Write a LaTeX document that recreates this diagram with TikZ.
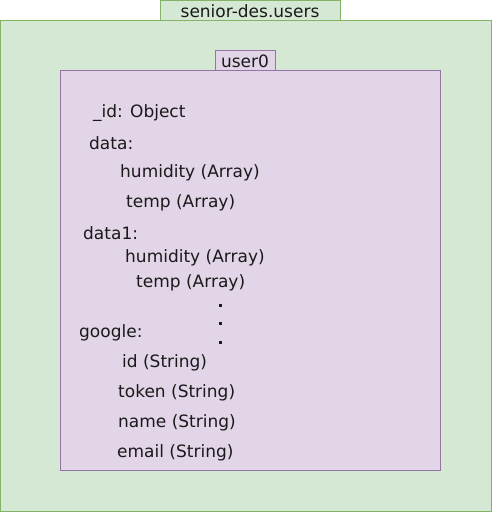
\documentclass[tikz,border=0pt]{standalone}
\usepackage{fontspec}
\setmainfont{DejaVu Sans}
\definecolor{gfill}{HTML}{D5E8D4}
\definecolor{gline}{HTML}{82B366}
\definecolor{pfill}{HTML}{E1D5E7}
\definecolor{pline}{HTML}{9673A6}
\definecolor{txt}{HTML}{1A1A1A}
\begin{document}
\begin{tikzpicture}[x=1pt,y=-1pt,
  gbox/.style={draw=gline,fill=gfill,line width=1pt},
  pbox/.style={draw=pline,fill=pfill,line width=1pt},
  lbl/.style={font=\fontsize{17}{20}\selectfont,text=txt,inner sep=0pt,anchor=west},
  tab/.style={font=\fontsize{17}{20}\selectfont,text=txt,inner sep=0pt}]
\useasboundingbox (0,0) rectangle (492,512);
\draw[gbox] (0.5,20) rectangle (491.5,511.5);
\draw[gbox] (160,0.5) rectangle (340,20);
\node[tab] (title) at (250,11) {senior-des.users};
\draw[pbox] (60,70) rectangle (440,470);
\draw[pbox] (215,50) rectangle (275,70);
\node[tab] (user) at (245,61) {user0};
\node[lbl] (id) at (93,113) {\_id: Object};
\node[lbl] (data) at (89,143) {data:};
\node[lbl] (h1) at (120,173) {humidity (Array)};
\node[lbl] (t1) at (126,203) {temp (Array)};
\node[lbl] (data1) at (83,233) {data1:};
\node[lbl] (h2) at (125,258) {humidity (Array)};
\node[lbl] (t2) at (136,283) {temp (Array)};
\foreach \yy/\nm in {305/d1,323/d2,342/d3}
  \fill[txt] (219,\yy-1.5) rectangle (222,\yy+1.5) coordinate (\nm);
\node[lbl] (google) at (79,333) {google:};
\node[lbl] (gid) at (122,363) {id (String)};
\node[lbl] (tok) at (118,393) {token (String)};
\node[lbl] (name) at (118,423) {name (String)};
\node[lbl] (email) at (117,453) {email (String)};
\end{tikzpicture}
\end{document}
